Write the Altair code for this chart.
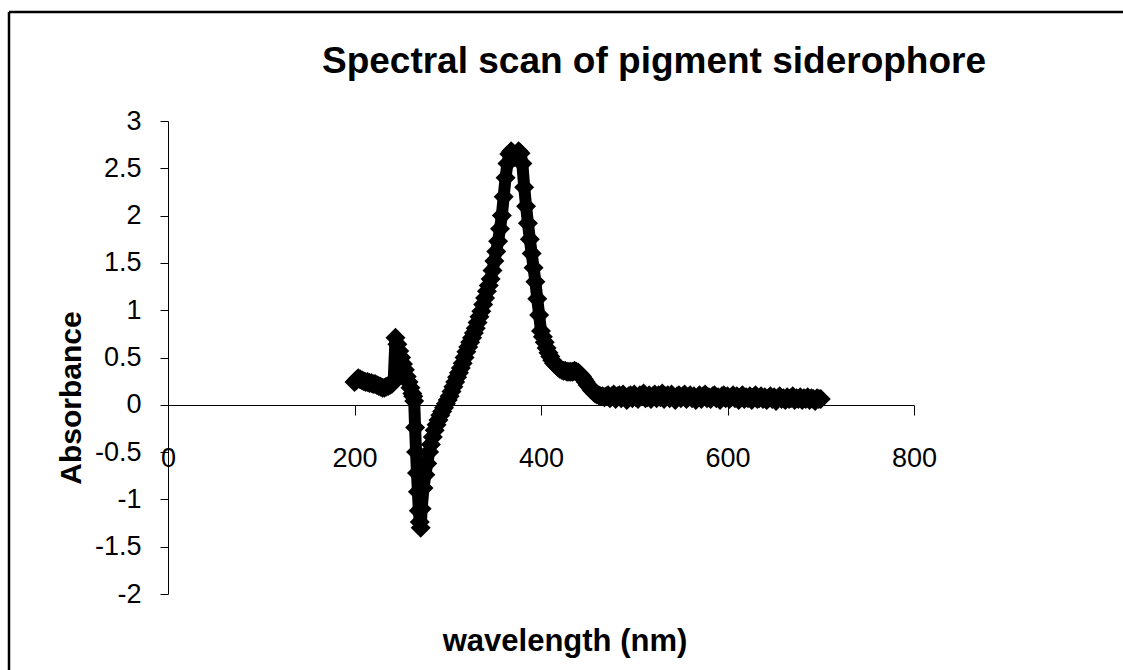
import altair as alt
import pandas as pd

TITLE = "Spectral scan of pigment siderophore"
X_TITLE = "wavelength (nm)"
Y_TITLE = "Absorbance"
x_ticks = [0, 200, 400, 600, 800]
y_ticks = [-2, -1.5, -1, -0.5, 0, 0.5, 1, 1.5, 2, 2.5, 3]

# wavelength grid (nm): 2 nm steps, 1 nm steps through the sharp drop
wavelength = list(range(200, 262, 2)) + list(range(262, 272, 1)) + list(range(272, 702, 2))

absorbance = [
    # 200-260
    0.24, 0.26, 0.28, 0.27, 0.26, 0.25, 0.24, 0.24, 0.23, 0.23,
    0.22, 0.22, 0.21, 0.20, 0.19, 0.18, 0.18, 0.19, 0.20, 0.21,
    0.22, 0.25, 0.71, 0.64, 0.57, 0.50, 0.43, 0.37, 0.30, 0.24,
    0.18,
    # 262-271
    0.12, 0.09, 0.04, -0.24, -0.50, -0.72, -0.92, -1.12, -1.24, -1.30,
    # 272-470
    -1.10, -0.88, -0.74, -0.62, -0.50, -0.42, -0.34, -0.27, -0.21, -0.16,
    -0.11, -0.07, -0.03, 0.01, 0.05, 0.09, 0.14, 0.19, 0.24, 0.29,
    0.34, 0.39, 0.44, 0.50, 0.56, 0.61, 0.66, 0.71, 0.76, 0.81,
    0.87, 0.93, 0.99, 1.06, 1.13, 1.20, 1.26, 1.33, 1.42, 1.52,
    1.62, 1.73, 1.86, 2.00, 2.20, 2.40, 2.55, 2.65, 2.68, 2.66,
    2.62, 2.64, 2.68, 2.66, 2.55, 2.30, 2.10, 1.92, 1.75, 1.60,
    1.45, 1.30, 1.12, 0.95, 0.78, 0.72, 0.66, 0.60, 0.55, 0.51,
    0.47, 0.44, 0.42, 0.40, 0.38, 0.37, 0.36, 0.36, 0.35, 0.35,
    0.35, 0.35, 0.36, 0.35, 0.34, 0.32, 0.30, 0.27, 0.24, 0.21,
    0.19, 0.16, 0.14, 0.12, 0.11, 0.10, 0.09, 0.09, 0.08, 0.09,
    # 472-700
    0.10, 0.07, 0.09, 0.11, 0.06, 0.09, 0.10, 0.07, 0.11, 0.08,
    0.05, 0.09, 0.10, 0.07, 0.11, 0.08, 0.06, 0.10, 0.09, 0.12,
    0.07, 0.08, 0.10, 0.06, 0.09, 0.11, 0.07, 0.10, 0.08, 0.12,
    0.06, 0.09, 0.10, 0.07, 0.11, 0.08, 0.05, 0.09, 0.10, 0.07,
    0.09, 0.11, 0.06, 0.08, 0.10, 0.07, 0.09, 0.05, 0.08, 0.10,
    0.06, 0.09, 0.11, 0.07, 0.08, 0.06, 0.09, 0.10, 0.07, 0.08,
    0.05, 0.09, 0.10, 0.07, 0.09, 0.06, 0.08, 0.10, 0.07, 0.09,
    0.05, 0.08, 0.10, 0.06, 0.08, 0.07, 0.09, 0.05, 0.08, 0.10,
    0.06, 0.07, 0.09, 0.06, 0.08, 0.05, 0.07, 0.09, 0.06, 0.08,
    0.04, 0.07, 0.09, 0.06, 0.07, 0.05, 0.08, 0.06, 0.07, 0.09,
    0.05, 0.07, 0.06, 0.08, 0.05, 0.07, 0.06, 0.08, 0.05, 0.07,
    0.06, 0.04, 0.07, 0.06, 0.06,
]

df = pd.DataFrame({"wavelength": wavelength, "absorbance": absorbance})

W, H = 746, 473
FONT = "Liberation Sans"

x_enc = alt.X(
    "wavelength:Q",
    scale=alt.Scale(domain=[0, 800], nice=False, zero=False),
    axis=alt.Axis(
        values=x_ticks, title=None, orient="bottom", offset=-189, grid=False,
        domainColor="black", domainWidth=1, tickColor="black", tickSize=10, tickWidth=1,
        labelFont=FONT, labelFontSize=27, labelColor="black", labelPadding=30,
        labelFlush=False, labelOverlap=False,
    ),
)
y_enc = alt.Y(
    "absorbance:Q",
    scale=alt.Scale(domain=[-2, 3], nice=False, zero=False),
    axis=alt.Axis(
        values=y_ticks, title=None, grid=False,
        domainColor="black", domainWidth=1, tickColor="black", tickSize=8, tickWidth=1,
        labelFont=FONT, labelFontSize=27, labelColor="black", labelPadding=19,
        labelExpr="'' + datum.value", labelOverlap=False, labelFlush=False,
    ),
)

line = alt.Chart(df).mark_line(
    color="black", strokeWidth=12, strokeJoin="round", strokeCap="round"
).encode(x=x_enc, y=y_enc)
points = alt.Chart(df).mark_point(
    shape="diamond", size=400, filled=True, color="black", opacity=1
).encode(x=x_enc, y=y_enc)

one = pd.DataFrame({"a": [0]})
border_left = alt.Chart(one).mark_rule(color="black", strokeWidth=2.5).encode(
    x=alt.value(-159), y=alt.value(-109), y2=alt.value(560)
)
border_top = alt.Chart(one).mark_rule(color="black", strokeWidth=2.5).encode(
    x=alt.value(-159), x2=alt.value(960), y=alt.value(-109)
)

title = alt.Chart(pd.DataFrame({"t": [TITLE]})).mark_text(
    font=FONT, fontSize=37, fontWeight="bold", align="center", baseline="alphabetic", color="black"
).encode(text="t:N", x=alt.value(486), y=alt.value(-48))

x_title = alt.Chart(pd.DataFrame({"t": [X_TITLE]})).mark_text(
    font=FONT, fontSize=31, fontWeight="bold", align="center", baseline="alphabetic", color="black"
).encode(text="t:N", x=alt.value(397), y=alt.value(530))

y_title = alt.Chart(pd.DataFrame({"t": [Y_TITLE]})).mark_text(
    font=FONT, fontSize=30, fontWeight="bold", align="center", baseline="middle",
    angle=270, color="black"
).encode(text="t:N", x=alt.value(-96), y=alt.value(277))

chart = alt.layer(
    border_left, border_top, line, points, title, x_title, y_title
).properties(
    width=W, height=H,
    padding={"left": 168, "top": 121, "right": 209, "bottom": 76},
    autosize=alt.AutoSizeParams(type="none"),
    background="white",
).configure_view(stroke=None)

chart.save("out.html", embed_options={"renderer": "svg", "actions": False})
